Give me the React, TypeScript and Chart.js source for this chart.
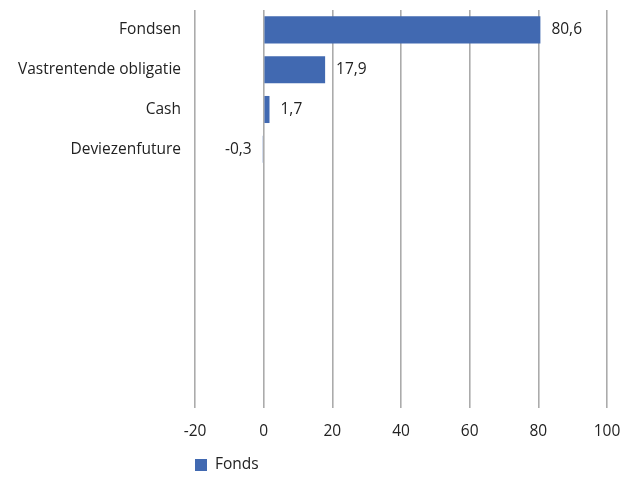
import React, { useEffect, useRef } from "react";
import { Chart, registerables } from "chart.js";

Chart.register(...registerables);

const categories = [
  "Fondsen",
  "Vastrentende obligatie",
  "Cash",
  "Deviezenfuture",
  "",
  "",
  "",
  "",
  "",
  "",
];
const fondsValues: (number | null)[] = [80.6, 17.9, 1.7, -0.3, null, null, null, null, null, null];
const seriesName = "Fonds";
const xMin = -20;
const xMax = 100;
const xStep = 20;

const FONT = "'Open Sans', 'Noto Sans', sans-serif";
const FS = 15.5;
const TEXT = "#222222";
const BAR = "#4169B1";

const valueLabels = {
  id: "valueLabels",
  afterDatasetsDraw(chart: any) {
    const ctx = chart.ctx;
    const meta = chart.getDatasetMeta(0);
    const data = chart.data.datasets[0].data;
    ctx.save();
    ctx.font = `${FS}px ${FONT}`;
    ctx.fillStyle = TEXT;
    ctx.textBaseline = "middle";
    meta.data.forEach((el: any, i: number) => {
      const v = data[i];
      if (v === null || v === undefined) return;
      const txt = v.toFixed(1).replace(".", ",");
      if (v >= 0) {
        ctx.textAlign = "left";
        ctx.fillText(txt, el.x + 11, el.y);
      } else {
        ctx.textAlign = "right";
        ctx.fillText(txt, el.x - 11, el.y);
      }
    });
    ctx.restore();
  },
};

const customLegend = {
  id: "customLegend",
  afterDraw(chart: any) {
    const ctx = chart.ctx;
    const ds = chart.data.datasets[0];
    const left = chart.chartArea.left;
    const cy = 465;
    ctx.save();
    ctx.fillStyle = ds.backgroundColor;
    ctx.fillRect(left, cy - 6, 12, 12);
    ctx.font = `${FS}px ${FONT}`;
    ctx.fillStyle = TEXT;
    ctx.textAlign = "left";
    ctx.textBaseline = "middle";
    ctx.fillText(ds.label, left + 20, cy);
    ctx.restore();
  },
};

export default function App() {
  const ref = useRef<HTMLCanvasElement>(null);
  useEffect(() => {
    if (!ref.current) return;
    const chart = new Chart(ref.current, {
      type: "bar",
      data: {
        labels: categories,
        datasets: [
          {
            label: seriesName,
            data: fondsValues,
            backgroundColor: BAR,
            borderWidth: 0,
            barPercentage: 0.68,
            categoryPercentage: 1,
          },
        ],
      },
      options: {
        indexAxis: "y",
        animation: false,
        responsive: true,
        maintainAspectRatio: false,
        layout: { padding: { left: 0, right: 33, top: 10, bottom: 34 } },
        plugins: {
          legend: { display: false },
          tooltip: { enabled: false },
        },
        scales: {
          x: {
            min: xMin,
            max: xMax,
            ticks: {
              stepSize: xStep,
              color: TEXT,
              font: { family: FONT, size: FS },
              padding: 14,
            },
            grid: {
              color: "#ABABAB",
              lineWidth: 1.6,
              drawTicks: false,
            },
            border: { display: false },
            afterFit: (scale: any) => {
              scale.height = 35;
              scale.paddingLeft = 0;
              scale.paddingRight = 0;
            },
          },
          y: {
            grid: { display: false, drawTicks: false },
            border: { display: false },
            ticks: {
              color: TEXT,
              font: { family: FONT, size: FS },
              padding: 14,
              autoSkip: false,
            },
            afterFit: (scale: any) => {
              scale.width = 195;
              scale.paddingTop = 0;
              scale.paddingBottom = 0;
            },
          },
        },
      },
      plugins: [valueLabels, customLegend],
    });
    return () => chart.destroy();
  }, []);
  return (
    <div style={{ position: "fixed", left: 0, top: 0, width: 640, height: 477 }}>
      <canvas ref={ref} />
    </div>
  );
}
